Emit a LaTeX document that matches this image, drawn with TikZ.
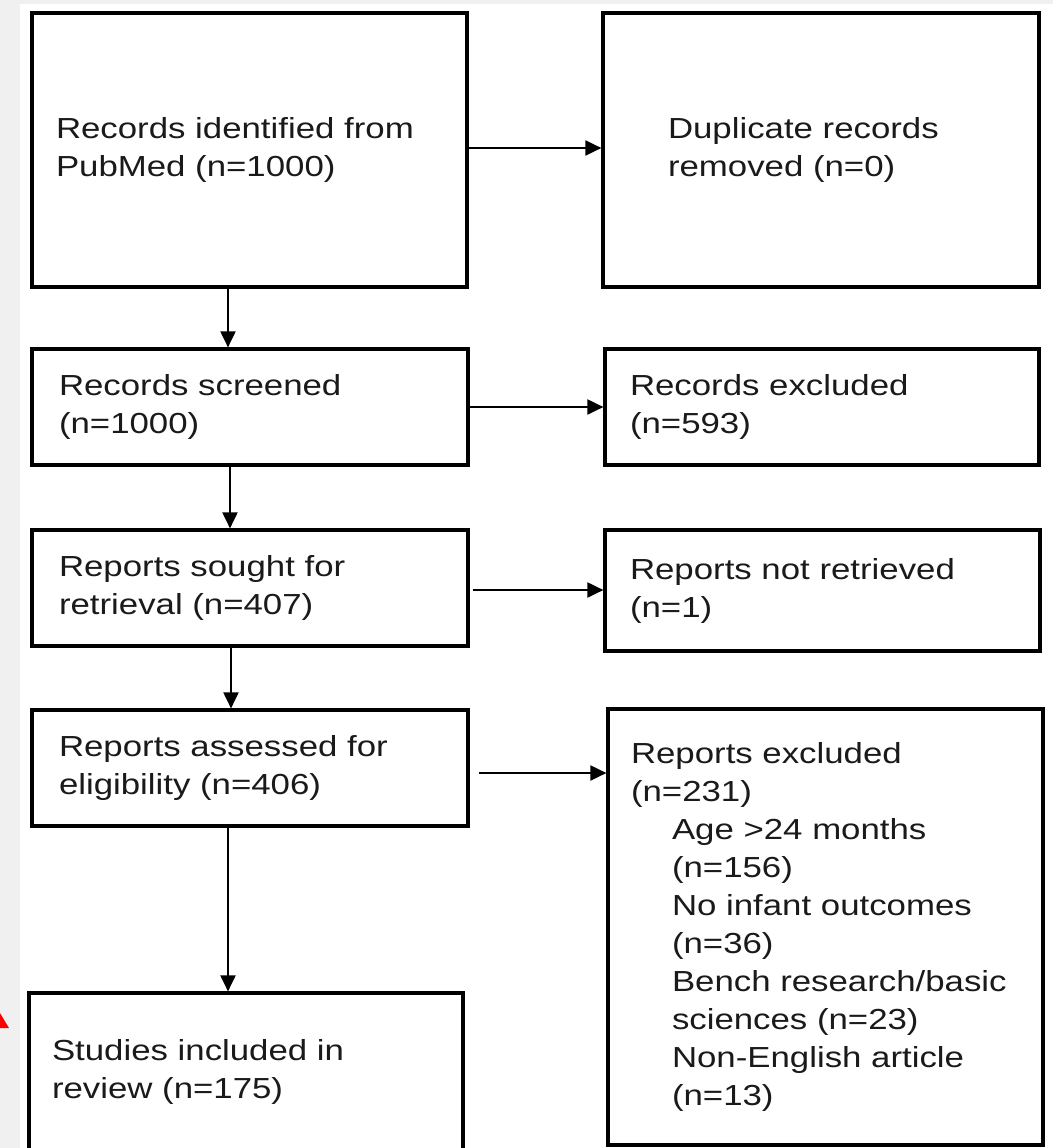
\documentclass[tikz,border=0pt]{standalone}
\usepackage{fontspec}
\setmainfont{Liberation Sans}[FakeStretch=1.2]
\usetikzlibrary{arrows.meta,calc}
\definecolor{bggray}{HTML}{F0F0F0}
\definecolor{txtcol}{HTML}{1A1A1A}
\begin{document}
\begin{tikzpicture}[x=1pt,y=-1pt,
  pbox/.style={draw=black, line width=3.2pt, rectangle, align=left, inner ysep=0pt,
    text=txtcol, font=\fontsize{29}{38}\selectfont},
  arr/.style={draw=black, line width=2pt, -{Triangle[length=16pt,width=15pt]}}]
\useasboundingbox (0,0) rectangle (1053,1148);
\fill[bggray] (0,0) rectangle (1053,1148);
\fill[white] (20,4) rectangle (1053,1148);
\fill[red] (0,1013) -- (9,1028) -- (0,1028) -- cycle;
\coordinate (col) at (228,0);
% left column
\node[pbox, minimum width=435pt, minimum height=274pt, text width=387pt, inner xsep=24pt] (b1) at (249.5,150)
  {Records identified from\\PubMed (n=1000)};
\node[pbox, minimum width=436pt, minimum height=116pt, text width=382pt, inner xsep=27pt] (b3) at (250,407)
  {Records screened\\(n=1000)};
\node[pbox, minimum width=436pt, minimum height=116pt, text width=382pt, inner xsep=27pt] (b5) at (250,588)
  {Reports sought for\\retrieval (n=407)};
\node[pbox, minimum width=436pt, minimum height=116pt, text width=382pt, inner xsep=27pt] (b7) at (250,768)
  {Reports assessed for\\eligibility (n=406)};
\node[pbox, minimum width=434pt, minimum height=157pt, text width=388pt, inner xsep=23pt] (b9) at (246,1071.5)
  {Studies included in\\review (n=175)};
% right column
\node[pbox, minimum width=436pt, minimum height=274pt, text width=306pt, inner xsep=65pt] (b2) at (821,150)
  {Duplicate records\\removed (n=0)};
\node[pbox, minimum width=434pt, minimum height=116pt, text width=384pt, inner xsep=25pt] (b4) at (822,407)
  {Records excluded\\(n=593)};
\node[pbox, minimum width=435pt, minimum height=121pt, text width=385pt, inner xsep=25pt] (b6) at (822.5,590.5)
  {Reports not retrieved\\(n=1)};
\node[pbox, minimum width=435pt, minimum height=436pt, text width=389pt, inner xsep=23pt] (b8) at (825.5,927)
  {Reports excluded\\(n=231)\\
   \hspace*{41pt}Age >24 months\\
   \hspace*{41pt}(n=156)\\
   \hspace*{41pt}No infant outcomes\\
   \hspace*{41pt}(n=36)\\
   \hspace*{41pt}Bench research/basic\\
   \hspace*{41pt}sciences (n=23)\\
   \hspace*{41pt}Non-English article\\
   \hspace*{41pt}(n=13)};
% connectors
\draw[arr] ([yshift=2pt]b1.east) -- ([yshift=2pt]b1.east -| b2.west);
\draw[arr] (b3.east) -- (b3.east -| b4.west);
\draw[arr] ([xshift=3pt,yshift=-2pt]b5.east) -- ([yshift=-2pt]b5.east -| b6.west);
\draw[arr] ([xshift=9pt,yshift=-5pt]b7.east) -- ([yshift=-5pt]b7.east -| b8.west);
\draw[arr] (b1.south -| col) -- (b3.north -| col);
\draw[arr] ([xshift=2pt]b3.south -| col) -- ([xshift=2pt]b5.north -| col);
\draw[arr] ([xshift=3pt]b5.south -| col) -- ([xshift=3pt]b7.north -| col);
\draw[arr] (b7.south -| col) -- (b9.north -| col);
\end{tikzpicture}
\end{document}
